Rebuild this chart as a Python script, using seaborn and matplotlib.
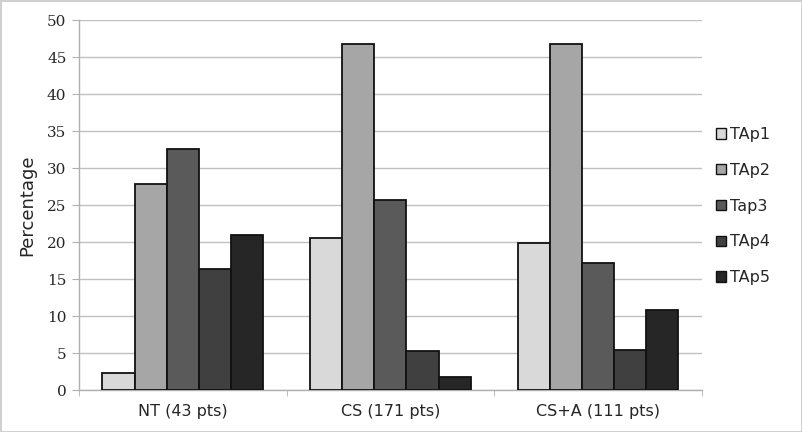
import numpy as np
import pandas as pd
import seaborn as sns
import matplotlib.pyplot as plt
from matplotlib.patches import Patch

groups = ['NT (43 pts)', 'CS (171 pts)', 'CS+A (111 pts)']
series = ['TAp1', 'TAp2', 'Tap3', 'TAp4', 'TAp5']
tap1 = [2.3, 20.5, 19.8]
tap2 = [27.9, 46.8, 46.8]
tap3 = [32.6, 25.7, 17.1]
tap4 = [16.3, 5.3, 5.4]
tap5 = [20.9, 1.7, 10.8]
colors = ['#d9d9d9', '#a6a6a6', '#5a5a5a', '#404040', '#262626']

rows = []
for name, vals in zip(series, [tap1, tap2, tap3, tap4, tap5]):
    for g, v in zip(groups, vals):
        rows.append({'group': g, 'series': name, 'value': v})
df = pd.DataFrame(rows)

sns.set_style('white')
fig = plt.figure(figsize=(8.02, 4.32), dpi=100, edgecolor='#d0d0d0', linewidth=2)
ax = fig.add_axes([0.0985, 0.0972, 0.7765, 0.8565])

sns.barplot(data=df, x='group', y='value', hue='series', order=groups,
            hue_order=series, palette=colors, width=0.775, gap=0,
            edgecolor='#111111', linewidth=1.3, ax=ax, legend=False, zorder=3)

ax.set_ylim(0, 50)
ax.set_xlim(-0.5, 2.5)
ax.set_yticks(np.arange(0, 51, 5))
ax.yaxis.grid(True, color='#c0c0c0', linewidth=1, zorder=0)
ax.set_axisbelow(True)
for s in ['top', 'right']:
    ax.spines[s].set_visible(False)
for s in ['left', 'bottom']:
    ax.spines[s].set_color('#b0b0b0')
    ax.spines[s].set_linewidth(1)

ax.set_xticks([-0.5, 0.5, 1.5, 2.5], minor=True)
ax.tick_params(axis='x', which='major', length=0, labelsize=11.5, pad=10)
ax.tick_params(axis='x', which='minor', length=4, color='#b0b0b0', direction='out', bottom=True)
ax.tick_params(axis='y', length=5, color='#b0b0b0', left=True, pad=4)
for lbl in ax.get_yticklabels():
    lbl.set_fontfamily('DejaVu Serif')
    lbl.set_fontsize(11)
ax.set_xlabel('')
ax.set_ylabel('Percentage', fontsize=13, labelpad=8)

handles = [Patch(facecolor=c, edgecolor='#111111', linewidth=1) for c in colors]
ax.legend(handles, series, loc='center left', bbox_to_anchor=(1.0, 0.497),
          frameon=False, fontsize=11.5, handlelength=0.6, handleheight=0.6,
          handletextpad=0.3, labelspacing=1.3)

fig.savefig('out.png', dpi=100, edgecolor=fig.get_edgecolor())
